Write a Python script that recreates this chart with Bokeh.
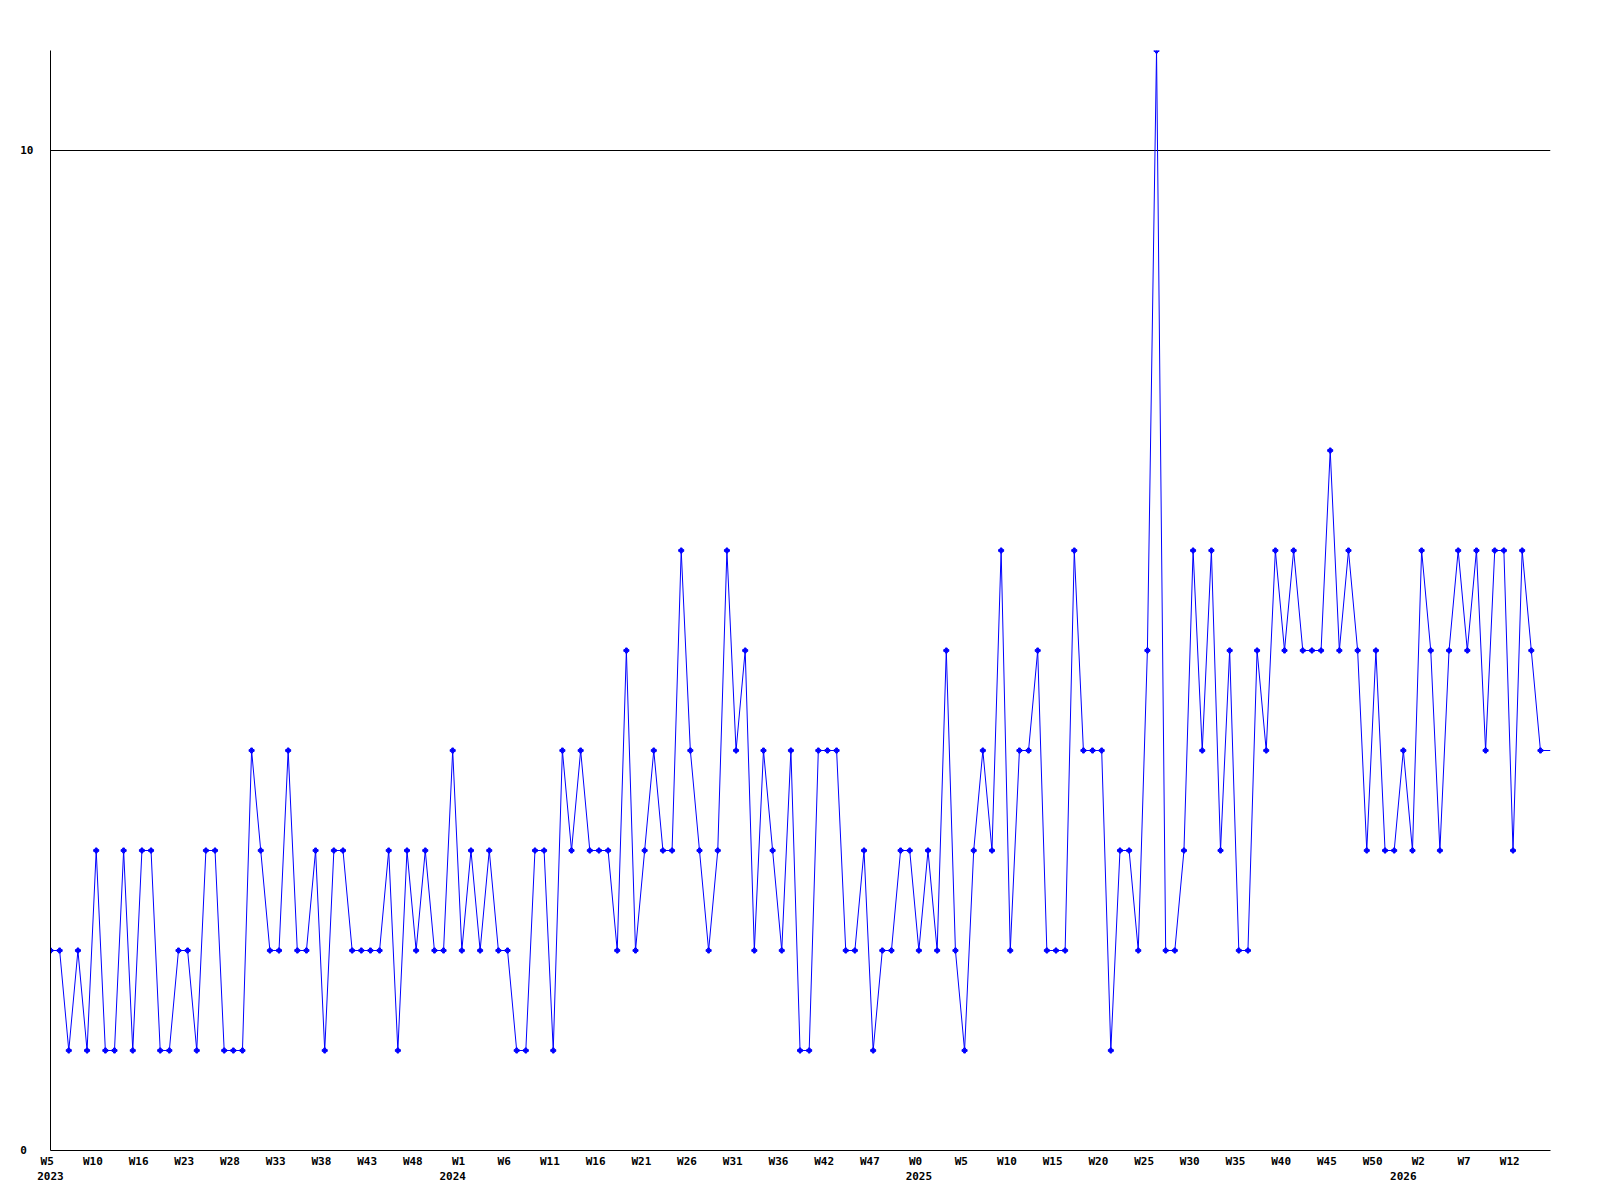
from bokeh.plotting import figure
from bokeh.models import FixedTicker, Range1d, LinearAxis
from bokeh.embed import file_html
from bokeh.resources import INLINE

# weekly counts, one per data point
counts = [
    2, 2, 1, 2, 1, 3, 1, 1, 3, 1,
    3, 3, 1, 1, 2, 2, 1, 3, 3, 1,
    1, 1, 4, 3, 2, 2, 4, 2, 2, 3,
    1, 3, 3, 2, 2, 2, 2, 3, 1, 3,
    2, 3, 2, 2, 4, 2, 3, 2, 3, 2,
    2, 1, 1, 3, 3, 1, 4, 3, 4, 3,
    3, 3, 2, 5, 2, 3, 4, 3, 3, 6,
    4, 3, 2, 3, 6, 4, 5, 2, 4, 3,
    2, 4, 1, 1, 4, 4, 4, 2, 2, 3,
    1, 2, 2, 3, 3, 2, 3, 2, 5, 2,
    1, 3, 4, 3, 6, 2, 4, 4, 5, 2,
    2, 2, 6, 4, 4, 4, 1, 3, 3, 2,
    5, 11, 2, 2, 3, 6, 4, 6, 3, 5,
    2, 2, 5, 4, 6, 5, 6, 5, 5, 5,
    7, 5, 6, 5, 3, 5, 3, 3, 4, 3,
    6, 5, 3, 5, 6, 5, 6, 4, 6, 6,
    3, 6, 5, 4,
]

# week tick labels, one every 5 points
week_labels = [
    "W5", "W10", "W16", "W23", "W28", "W33", "W38", "W43", "W48",
    "W1", "W6", "W11", "W16", "W21", "W26", "W31", "W36", "W42", "W47",
    "W0", "W5", "W10", "W15", "W20", "W25", "W30", "W35", "W40", "W45", "W50",
    "W2", "W7", "W12",
]
label_step = 5
# year labels and the point index where each year starts
years = ["2023", "2024", "2025", "2026"]
year_first_point = [0, 44, 95, 148]
y_ticks = [0, 10]

x = list(range(len(counts)))
x_end = 164.1

p = figure(width=1590, height=1195, output_backend="svg", toolbar_location=None,
           x_range=Range1d(0, x_end), y_range=Range1d(0, 11),
           min_border_left=50, min_border_top=50, min_border_right=40,
           min_border_bottom=45)
p.outline_line_color = None
p.background_fill_color = "white"
p.border_fill_color = "white"

p.line(x + [x_end], counts + [counts[-1]], line_color="#0000ff", line_width=1)
p.scatter(x, counts, marker="plus", size=5, color="#0000ff")

font = "DejaVu Sans Mono"
NBSP = "\u00a0"


def style_axis(ax, standoff):
    ax.major_tick_out = 0
    ax.major_tick_in = 0
    ax.major_tick_line_color = None
    ax.minor_tick_line_color = None
    ax.minor_tick_out = 0
    ax.major_label_text_font = font
    ax.major_label_text_font_style = "bold"
    ax.major_label_text_font_size = "11px"
    ax.major_label_text_color = "black"
    ax.major_label_standoff = standoff


# x axis: week labels
tick_pos = [i * label_step for i in range(len(week_labels))]
p.xaxis.ticker = FixedTicker(ticks=tick_pos)
p.xaxis.major_label_overrides = {t: lab + NBSP for t, lab in zip(tick_pos, week_labels)}
p.xaxis.axis_line_color = "black"
style_axis(p.xaxis[0], 4)
p.xaxis.major_label_text_line_height = 1.36

# second row: years
year_axis = LinearAxis(ticker=FixedTicker(ticks=year_first_point),
                       major_label_overrides={t: y for t, y in zip(year_first_point, years)})
year_axis.axis_line_color = None
style_axis(year_axis, 1)
p.add_layout(year_axis, "below")

# y axis
p.yaxis.ticker = FixedTicker(ticks=y_ticks)
p.yaxis.major_label_overrides = {0: "0" + NBSP, 10: "10"}
p.yaxis.axis_line_color = "black"
style_axis(p.yaxis[0], 17)

p.xgrid.grid_line_color = None
p.ygrid.ticker = FixedTicker(ticks=[10])
p.ygrid.grid_line_color = "black"
p.ygrid.grid_line_alpha = 1.0
p.ygrid.grid_line_width = 1

open("out.html", "w").write(file_html(p, INLINE))
